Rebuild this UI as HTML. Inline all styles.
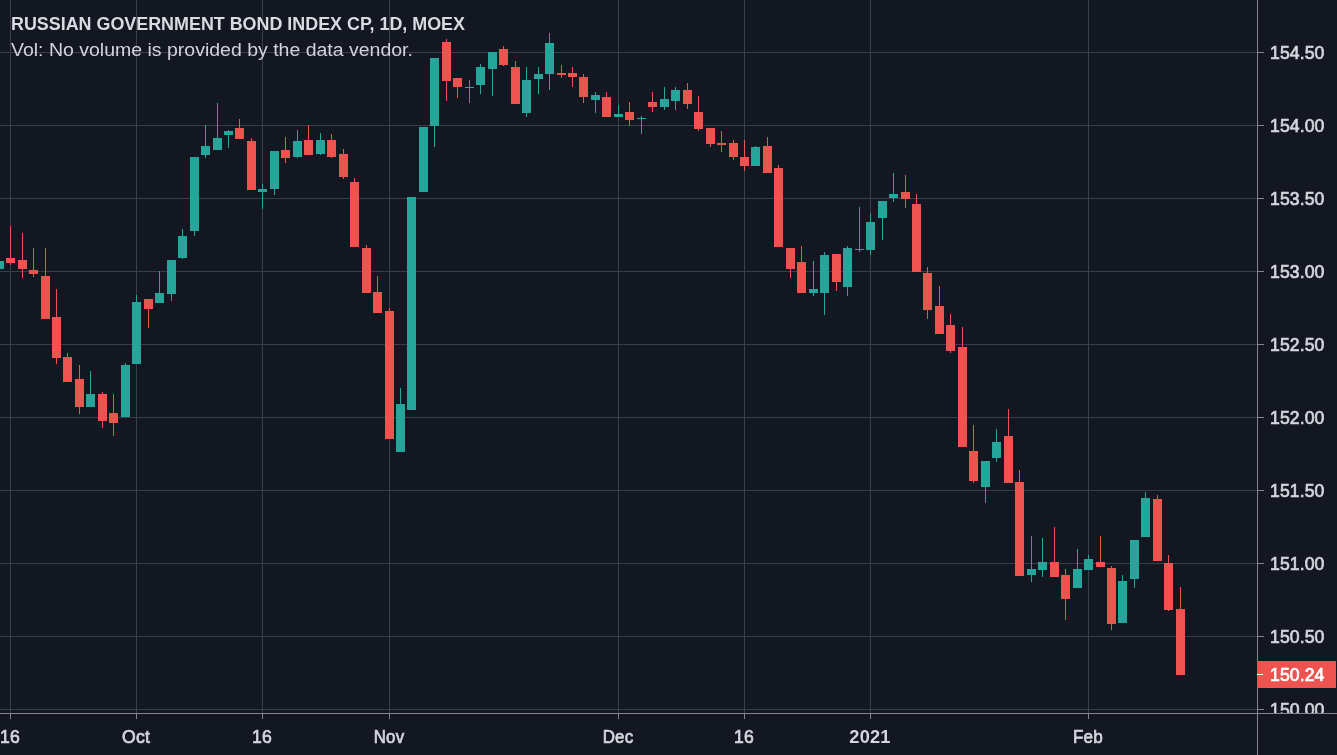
<!DOCTYPE html>
<html lang="en">
<head>
<meta charset="utf-8">
<title>RUSSIAN GOVERNMENT BOND INDEX CP, 1D, MOEX</title>
<style>
html,body{margin:0;padding:0;background:#131722;}
body{width:1337px;height:755px;overflow:hidden;position:relative;font-family:"Liberation Sans",sans-serif;color:#d6d8de;}
.chart{position:absolute;left:0;top:0;display:block;}
.t{position:absolute;white-space:nowrap;line-height:1;margin:0;padding:0;}
.title{left:11px;top:15px;font-size:18px;font-weight:bold;letter-spacing:0px;color:#d9dbe0;transform-origin:0 0;transform:scaleX(0.994);}
.vol{left:11.2px;top:41px;font-size:18.3px;letter-spacing:0px;color:#d1d4dc;transform-origin:0 0;transform:scaleX(1.066);}
.pl{left:1270px;font-size:17.6px;letter-spacing:0.1px;color:#d4d6dd;transform-origin:0 0;transform:scaleX(1);-webkit-text-stroke:0.7px currentColor;}
.cur{color:#fff;}
.tl{font-size:17.6px;letter-spacing:0.2px;color:#d4d6dd;top:729px;transform:translateX(-50%);-webkit-text-stroke:0.7px currentColor;}
.tl.b{font-weight:bold;-webkit-text-stroke:0;}
.clip{position:absolute;left:0;top:0;width:1337px;height:713px;overflow:hidden;}
</style>
</head>
<body>
<svg class="chart" width="1337" height="755" viewBox="0 0 1337 755" shape-rendering="crispEdges">
<rect x="0" y="0" width="1337" height="755" fill="#131722"/>
<g fill="#3a3e4a">
<rect x="10" y="0" width="1" height="713"/>
<rect x="136" y="0" width="1" height="713"/>
<rect x="262" y="0" width="1" height="713"/>
<rect x="389" y="0" width="1" height="713"/>
<rect x="618" y="0" width="1" height="713"/>
<rect x="744" y="0" width="1" height="713"/>
<rect x="870" y="0" width="1" height="713"/>
<rect x="1088" y="0" width="1" height="713"/>
<rect x="0" y="52" width="1257" height="1"/>
<rect x="0" y="125" width="1257" height="1"/>
<rect x="0" y="198" width="1257" height="1"/>
<rect x="0" y="271" width="1257" height="1"/>
<rect x="0" y="344" width="1257" height="1"/>
<rect x="0" y="417" width="1257" height="1"/>
<rect x="0" y="490" width="1257" height="1"/>
<rect x="0" y="563" width="1257" height="1"/>
<rect x="0" y="636" width="1257" height="1"/>
<rect x="0" y="709" width="1257" height="1"/>
</g>
<g fill="#26a69a">
<rect x="-5" y="261" width="9" height="8"/>
<rect x="90" y="371" width="1" height="36"/>
<rect x="86" y="394" width="9" height="13"/>
<rect x="125" y="363" width="1" height="54"/>
<rect x="121" y="365" width="9" height="52"/>
<rect x="136" y="295" width="1" height="69"/>
<rect x="132" y="302" width="9" height="62"/>
<rect x="159" y="271" width="1" height="32"/>
<rect x="155" y="293" width="9" height="10"/>
<rect x="171" y="260" width="1" height="41"/>
<rect x="167" y="260" width="9" height="34"/>
<rect x="182" y="229" width="1" height="30"/>
<rect x="178" y="236" width="9" height="22"/>
<rect x="194" y="157" width="1" height="79"/>
<rect x="190" y="157" width="9" height="74"/>
<rect x="205" y="125" width="1" height="33"/>
<rect x="201" y="146" width="9" height="9"/>
<rect x="217" y="103" width="1" height="47"/>
<rect x="213" y="138" width="9" height="12"/>
<rect x="228" y="130" width="1" height="18"/>
<rect x="224" y="131" width="9" height="4"/>
<rect x="262" y="184" width="1" height="25"/>
<rect x="258" y="189" width="9" height="3"/>
<rect x="274" y="151" width="1" height="44"/>
<rect x="270" y="151" width="9" height="38"/>
<rect x="297" y="130" width="1" height="28"/>
<rect x="293" y="141" width="9" height="16"/>
<rect x="320" y="133" width="1" height="22"/>
<rect x="316" y="140" width="9" height="14"/>
<rect x="400" y="388" width="1" height="64"/>
<rect x="396" y="404" width="9" height="48"/>
<rect x="407" y="197" width="9" height="213"/>
<rect x="419" y="127" width="9" height="65"/>
<rect x="434" y="58" width="1" height="89"/>
<rect x="430" y="58" width="9" height="68"/>
<rect x="469" y="80" width="1" height="23"/>
<rect x="465" y="87" width="9" height="1"/>
<rect x="480" y="64" width="1" height="30"/>
<rect x="476" y="67" width="9" height="18"/>
<rect x="492" y="52" width="1" height="44"/>
<rect x="488" y="52" width="9" height="17"/>
<rect x="526" y="67" width="1" height="50"/>
<rect x="522" y="80" width="9" height="33"/>
<rect x="538" y="67" width="1" height="27"/>
<rect x="534" y="74" width="9" height="5"/>
<rect x="549" y="33" width="1" height="57"/>
<rect x="545" y="43" width="9" height="31"/>
<rect x="595" y="92" width="1" height="21"/>
<rect x="591" y="95" width="9" height="5"/>
<rect x="618" y="105" width="1" height="12"/>
<rect x="614" y="114" width="9" height="3"/>
<rect x="641" y="116" width="1" height="18"/>
<rect x="637" y="118" width="9" height="1"/>
<rect x="664" y="87" width="1" height="23"/>
<rect x="660" y="99" width="9" height="8"/>
<rect x="675" y="87" width="1" height="23"/>
<rect x="671" y="90" width="9" height="11"/>
<rect x="755" y="146" width="1" height="20"/>
<rect x="751" y="147" width="9" height="19"/>
<rect x="813" y="261" width="1" height="35"/>
<rect x="809" y="289" width="9" height="4"/>
<rect x="824" y="252" width="1" height="63"/>
<rect x="820" y="255" width="9" height="38"/>
<rect x="847" y="246" width="1" height="50"/>
<rect x="843" y="248" width="9" height="39"/>
<rect x="859" y="207" width="1" height="45"/>
<rect x="855" y="249" width="9" height="1"/>
<rect x="870" y="213" width="1" height="42"/>
<rect x="866" y="222" width="9" height="28"/>
<rect x="882" y="201" width="1" height="39"/>
<rect x="878" y="201" width="9" height="17"/>
<rect x="893" y="173" width="1" height="29"/>
<rect x="889" y="194" width="9" height="4"/>
<rect x="985" y="461" width="1" height="42"/>
<rect x="981" y="461" width="9" height="26"/>
<rect x="996" y="429" width="1" height="33"/>
<rect x="992" y="442" width="9" height="16"/>
<rect x="1031" y="536" width="1" height="46"/>
<rect x="1027" y="569" width="9" height="6"/>
<rect x="1042" y="538" width="1" height="39"/>
<rect x="1038" y="562" width="9" height="8"/>
<rect x="1077" y="549" width="1" height="39"/>
<rect x="1073" y="569" width="9" height="19"/>
<rect x="1088" y="555" width="1" height="15"/>
<rect x="1084" y="559" width="9" height="11"/>
<rect x="1122" y="575" width="1" height="48"/>
<rect x="1118" y="581" width="9" height="42"/>
<rect x="1134" y="540" width="1" height="48"/>
<rect x="1130" y="540" width="9" height="39"/>
<rect x="1145" y="492" width="1" height="45"/>
<rect x="1141" y="498" width="9" height="39"/>
</g>
<g fill="#ef5350">
<rect x="10" y="226" width="1" height="39"/>
<rect x="6" y="258" width="9" height="5"/>
<rect x="22" y="233" width="1" height="45"/>
<rect x="18" y="260" width="9" height="9"/>
<rect x="33" y="248" width="1" height="29"/>
<rect x="29" y="270" width="9" height="4"/>
<rect x="45" y="248" width="1" height="71"/>
<rect x="41" y="276" width="9" height="43"/>
<rect x="56" y="289" width="1" height="75"/>
<rect x="52" y="317" width="9" height="41"/>
<rect x="67" y="353" width="1" height="29"/>
<rect x="63" y="357" width="9" height="25"/>
<rect x="79" y="365" width="1" height="49"/>
<rect x="75" y="379" width="9" height="28"/>
<rect x="102" y="392" width="1" height="36"/>
<rect x="98" y="394" width="9" height="27"/>
<rect x="113" y="394" width="1" height="42"/>
<rect x="109" y="413" width="9" height="10"/>
<rect x="148" y="299" width="1" height="29"/>
<rect x="144" y="299" width="9" height="10"/>
<rect x="239" y="119" width="1" height="20"/>
<rect x="235" y="128" width="9" height="11"/>
<rect x="251" y="138" width="1" height="52"/>
<rect x="247" y="141" width="9" height="49"/>
<rect x="285" y="137" width="1" height="26"/>
<rect x="281" y="150" width="9" height="8"/>
<rect x="308" y="125" width="1" height="30"/>
<rect x="304" y="140" width="9" height="15"/>
<rect x="331" y="134" width="1" height="24"/>
<rect x="327" y="140" width="9" height="17"/>
<rect x="343" y="149" width="1" height="30"/>
<rect x="339" y="154" width="9" height="23"/>
<rect x="354" y="178" width="1" height="69"/>
<rect x="350" y="182" width="9" height="65"/>
<rect x="366" y="245" width="1" height="48"/>
<rect x="362" y="248" width="9" height="45"/>
<rect x="377" y="276" width="1" height="37"/>
<rect x="373" y="292" width="9" height="21"/>
<rect x="389" y="308" width="1" height="131"/>
<rect x="385" y="311" width="9" height="128"/>
<rect x="446" y="39" width="1" height="62"/>
<rect x="442" y="42" width="9" height="39"/>
<rect x="457" y="78" width="1" height="20"/>
<rect x="453" y="78" width="9" height="9"/>
<rect x="503" y="46" width="1" height="20"/>
<rect x="499" y="49" width="9" height="16"/>
<rect x="515" y="61" width="1" height="43"/>
<rect x="511" y="67" width="9" height="37"/>
<rect x="561" y="65" width="1" height="13"/>
<rect x="557" y="73" width="9" height="2"/>
<rect x="572" y="67" width="1" height="20"/>
<rect x="568" y="73" width="9" height="4"/>
<rect x="583" y="74" width="1" height="29"/>
<rect x="579" y="77" width="9" height="20"/>
<rect x="606" y="92" width="1" height="25"/>
<rect x="602" y="97" width="9" height="20"/>
<rect x="629" y="102" width="1" height="24"/>
<rect x="625" y="112" width="9" height="8"/>
<rect x="652" y="92" width="1" height="20"/>
<rect x="648" y="102" width="9" height="5"/>
<rect x="687" y="83" width="1" height="26"/>
<rect x="683" y="90" width="9" height="14"/>
<rect x="698" y="96" width="1" height="35"/>
<rect x="694" y="112" width="9" height="17"/>
<rect x="710" y="128" width="1" height="19"/>
<rect x="706" y="128" width="9" height="16"/>
<rect x="721" y="131" width="1" height="21"/>
<rect x="717" y="143" width="9" height="2"/>
<rect x="733" y="140" width="1" height="20"/>
<rect x="729" y="143" width="9" height="14"/>
<rect x="744" y="140" width="1" height="31"/>
<rect x="740" y="157" width="9" height="9"/>
<rect x="767" y="137" width="1" height="36"/>
<rect x="763" y="146" width="9" height="27"/>
<rect x="778" y="165" width="1" height="82"/>
<rect x="774" y="168" width="9" height="79"/>
<rect x="790" y="248" width="1" height="30"/>
<rect x="786" y="248" width="9" height="21"/>
<rect x="801" y="246" width="1" height="47"/>
<rect x="797" y="262" width="9" height="31"/>
<rect x="836" y="254" width="1" height="37"/>
<rect x="832" y="254" width="9" height="28"/>
<rect x="905" y="175" width="1" height="33"/>
<rect x="901" y="192" width="9" height="7"/>
<rect x="916" y="194" width="1" height="78"/>
<rect x="912" y="204" width="9" height="68"/>
<rect x="927" y="267" width="1" height="52"/>
<rect x="923" y="273" width="9" height="37"/>
<rect x="939" y="286" width="1" height="48"/>
<rect x="935" y="306" width="9" height="28"/>
<rect x="950" y="314" width="1" height="39"/>
<rect x="946" y="325" width="9" height="26"/>
<rect x="962" y="327" width="1" height="120"/>
<rect x="958" y="347" width="9" height="100"/>
<rect x="973" y="425" width="1" height="58"/>
<rect x="969" y="451" width="9" height="30"/>
<rect x="1008" y="409" width="1" height="74"/>
<rect x="1004" y="436" width="9" height="47"/>
<rect x="1019" y="470" width="1" height="106"/>
<rect x="1015" y="482" width="9" height="94"/>
<rect x="1054" y="527" width="1" height="50"/>
<rect x="1050" y="562" width="9" height="15"/>
<rect x="1065" y="569" width="1" height="51"/>
<rect x="1061" y="575" width="9" height="24"/>
<rect x="1100" y="536" width="1" height="31"/>
<rect x="1096" y="562" width="9" height="5"/>
<rect x="1111" y="566" width="1" height="64"/>
<rect x="1107" y="568" width="9" height="56"/>
<rect x="1157" y="495" width="1" height="66"/>
<rect x="1153" y="499" width="9" height="62"/>
<rect x="1168" y="555" width="1" height="56"/>
<rect x="1164" y="563" width="9" height="47"/>
<rect x="1180" y="587" width="1" height="88"/>
<rect x="1176" y="609" width="9" height="66"/>
</g>
<g fill="#84878f">
<rect x="1257" y="0" width="1" height="755"/>
<rect x="0" y="713" width="1337" height="1"/>
<rect x="10" y="714" width="1" height="5"/>
<rect x="136" y="714" width="1" height="5"/>
<rect x="262" y="714" width="1" height="5"/>
<rect x="389" y="714" width="1" height="5"/>
<rect x="618" y="714" width="1" height="5"/>
<rect x="744" y="714" width="1" height="5"/>
<rect x="870" y="714" width="1" height="5"/>
<rect x="1088" y="714" width="1" height="5"/>
<rect x="1258" y="52" width="6" height="1"/>
<rect x="1258" y="125" width="6" height="1"/>
<rect x="1258" y="198" width="6" height="1"/>
<rect x="1258" y="271" width="6" height="1"/>
<rect x="1258" y="344" width="6" height="1"/>
<rect x="1258" y="417" width="6" height="1"/>
<rect x="1258" y="490" width="6" height="1"/>
<rect x="1258" y="563" width="6" height="1"/>
<rect x="1258" y="636" width="6" height="1"/>
<rect x="1258" y="709" width="6" height="1"/>
</g>
<rect x="1257" y="661" width="79" height="27" fill="#ef5350"/>
<rect x="1257" y="674" width="6" height="1" fill="#ffffff"/>
</svg>
<div class="t title">RUSSIAN GOVERNMENT BOND INDEX CP, 1D, MOEX</div>
<div class="t vol">Vol: No volume is provided by the data vendor.</div>
<div class="clip">
<div class="t pl" style="top:45px">154.50</div>
<div class="t pl" style="top:118px">154.00</div>
<div class="t pl" style="top:191px">153.50</div>
<div class="t pl" style="top:264px">153.00</div>
<div class="t pl" style="top:337px">152.50</div>
<div class="t pl" style="top:410px">152.00</div>
<div class="t pl" style="top:483px">151.50</div>
<div class="t pl" style="top:556px">151.00</div>
<div class="t pl" style="top:629px">150.50</div>
<div class="t pl" style="top:702px">150.00</div>
</div>
<div class="t pl cur" style="top:667px">150.24</div>
<div class="t tl" style="left:10px">16</div>
<div class="t tl" style="left:136px">Oct</div>
<div class="t tl" style="left:262px">16</div>
<div class="t tl" style="left:389px;transform:translateX(-50%) scaleX(0.955)">Nov</div>
<div class="t tl" style="left:618px;transform:translateX(-50%) scaleX(0.96)">Dec</div>
<div class="t tl" style="left:744px">16</div>
<div class="t tl b" style="left:870px;transform:translateX(-50%) scaleX(1.036)">2021</div>
<div class="t tl" style="left:1088px;transform:translateX(-50%) scaleX(0.97)">Feb</div>
</body>
</html>
